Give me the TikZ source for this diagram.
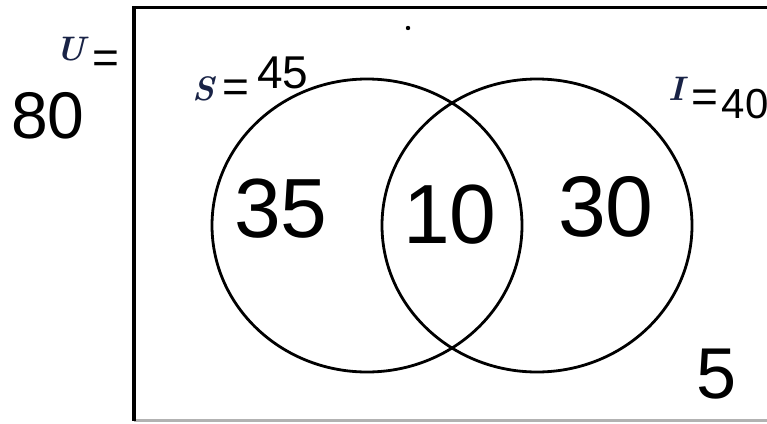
\documentclass[tikz,border=0pt]{standalone}
\usepackage{fontspec}
\newfontfamily\hand{Liberation Sans}
\usetikzlibrary{shapes.geometric}
\definecolor{navy}{RGB}{25,35,70}
\begin{document}
\begin{tikzpicture}[x=1pt,y=-1pt,
  setcircle/.style={draw=black, line width=2.8pt, ellipse, inner sep=0pt,
    minimum width=310pt, minimum height=293pt},
  hw/.style={inner sep=0pt, anchor=base, font=\hand\fontsize{#1}{#1}\selectfont},
  letter/.style={inner sep=0pt, anchor=base, text=navy,
    font=\fontsize{34}{34}\selectfont\bfseries\itshape},
  eqs/.style={inner sep=0pt, font=\hand\fontsize{46}{46}\selectfont}]
\useasboundingbox (0,0) rectangle (767,423);
\fill[white] (0,0) rectangle (767,423);
% universe rectangle (right side runs off the picture)
\coordinate (tl) at (134,7.5);
\coordinate (tr) at (767,7.5);
\coordinate (bl) at (134,420.5);
\coordinate (br) at (767,420.5);
\draw[gray!60, line width=3pt] (bl) -- (br);
\draw[black, line width=3.8pt] (tr) -- (tl) -- (bl);
% sets
\node[setcircle] (S) at (367,225.5) {};
\node[setcircle] (I) at (537,225.5) {};
% labels
\node[letter] (Ul) at (70,60) {U};
\node[eqs] (Ueq) at (106,62) {=};
\node[hw=66] (Un) at (48,138) {80};
\node[letter] (Sl) at (204,100) {S};
\node[eqs] (Seq) at (236,91) {=};
\node[hw=46] (Sn) at (283,88) {45};
\node[letter] (Il) at (677,100) {I};
\node[eqs] (Ieq) at (705,101) {=};
\node[hw=42] (In) at (745,118) {40};
% region counts
\node[hw=84] (onlyS) at (281,237) {35};
\node[hw=84] (both) at (450,243) {10};
\node[hw=86] (onlyI) at (606,236) {30};
\node[hw=72] (none) at (717,398) {5};
% stray dot
\fill[black] (408,28) circle (2.2pt);
\end{tikzpicture}
\end{document}
